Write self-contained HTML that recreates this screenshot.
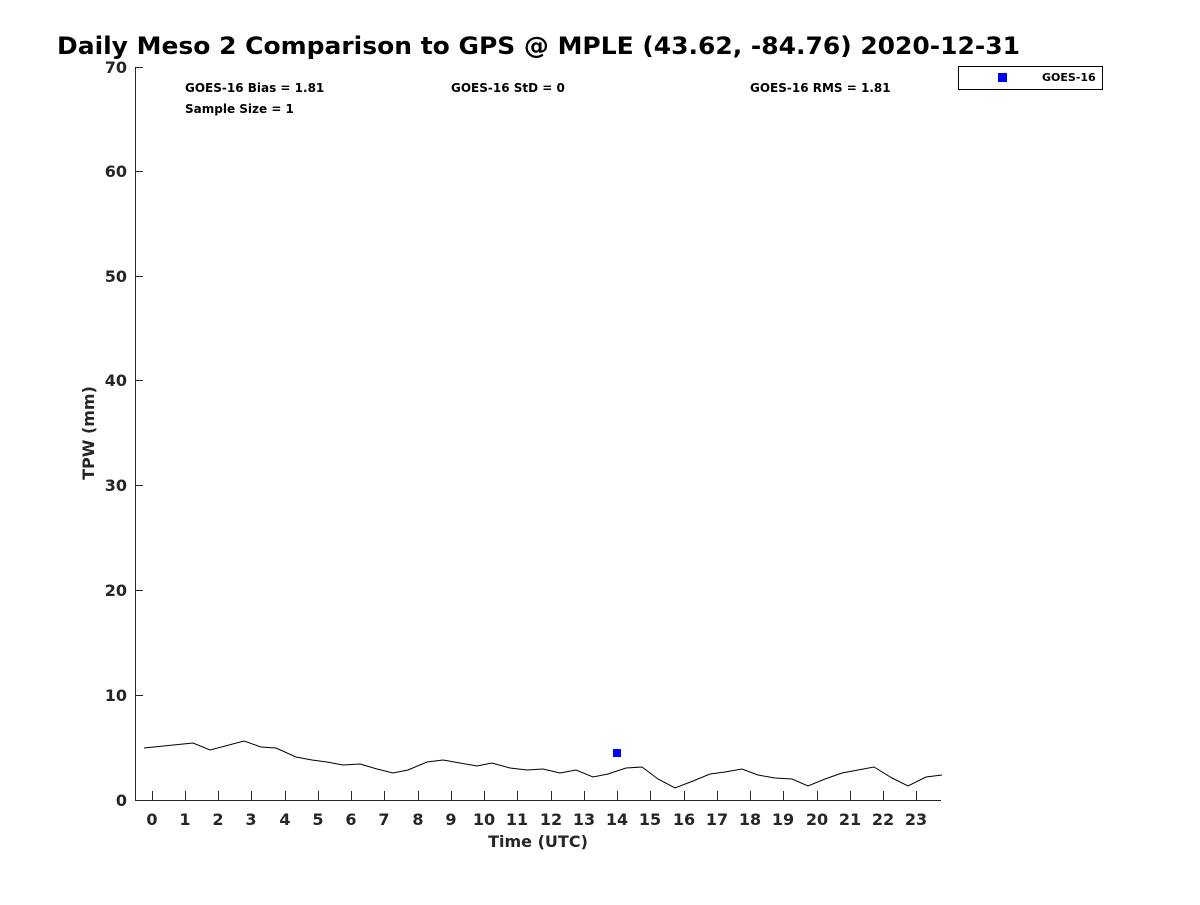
<!DOCTYPE html>
<html><head><style>
body{margin:0;background:#fff;}
svg text{font-family:"DejaVu Sans","Liberation Sans",sans-serif;font-weight:bold;}
</style></head><body>
<svg width="1200" height="900" xmlns="http://www.w3.org/2000/svg">
<rect width="1200" height="900" fill="#fff"/>
<text x="57" y="54" font-size="24" fill="#000" textLength="963" lengthAdjust="spacingAndGlyphs">Daily Meso 2 Comparison to GPS @ MPLE (43.62, -84.76) 2020-12-31</text>
<g stroke="#262626" stroke-width="1" fill="none">
<path d="M135.5,67 V800.5 H941"/>
<path d="M135,67.5 H143 M135,171.5 H143 M135,276.5 H143 M135,380.5 H143 M135,485.5 H143 M135,590.5 H143 M135,695.5 H143"/>
<path d="M152.5,800V791 M185.5,800V791 M218.5,800V791 M251.5,800V791 M285.5,800V791 M318.5,800V791 M351.5,800V791 M384.5,800V791 M418.5,800V791 M451.5,800V791 M484.5,800V791 M517.5,800V791 M551.5,800V791 M584.5,800V791 M617.5,800V791 M650.5,800V791 M684.5,800V791 M717.5,800V791 M750.5,800V791 M783.5,800V791 M817.5,800V791 M850.5,800V791 M883.5,800V791 M916.5,800V791"/>
</g>
<g font-size="16" fill="#262626" text-anchor="end">
<text x="127" y="73">70</text><text x="127" y="177">60</text><text x="127" y="282">50</text><text x="127" y="386">40</text><text x="127" y="491">30</text><text x="127" y="596">20</text><text x="127" y="701">10</text><text x="127" y="806">0</text>
</g>
<g font-size="16" fill="#262626" text-anchor="middle">
<text x="152" y="825">0</text><text x="185" y="825">1</text><text x="218" y="825">2</text><text x="251" y="825">3</text><text x="285" y="825">4</text><text x="318" y="825">5</text><text x="351" y="825">6</text><text x="384" y="825">7</text><text x="418" y="825">8</text><text x="451" y="825">9</text><text x="484" y="825">10</text><text x="517" y="825">11</text><text x="551" y="825">12</text><text x="584" y="825">13</text><text x="617" y="825">14</text><text x="650" y="825">15</text><text x="684" y="825">16</text><text x="717" y="825">17</text><text x="750" y="825">18</text><text x="783" y="825">19</text><text x="817" y="825">20</text><text x="850" y="825">21</text><text x="883" y="825">22</text><text x="916" y="825">23</text>
</g>
<text x="538" y="847" font-size="16" fill="#262626" text-anchor="middle">Time (UTC)</text>
<text transform="translate(94,433) rotate(-90)" font-size="16" fill="#262626" text-anchor="middle">TPW (mm)</text>
<g font-size="12" fill="#000">
<text x="185" y="92">GOES-16 Bias = 1.81</text>
<text x="451" y="92">GOES-16 StD = 0</text>
<text x="750" y="92">GOES-16 RMS = 1.81</text>
<text x="185" y="113">Sample Size = 1</text>
</g>
<polyline fill="none" stroke="#000" stroke-width="1" points="144,748 193,743 210,750 244,741 261,747 276,748 296,757 312,760 327,762 343,765 360,764 377,769 393,773 408,770 427,762 443,760 460,763 477,766 492,763 510,768 527,770 543,769 560,773 576,770 593,777 608,774 626,768 642,767 658,779 675,788 693,781 710,774 725,772 742,769 758,775 775,778 792,779 808,786 825,779 842,773 858,770 874,767 892,778 908,786 926,777 942,775"/>
<rect x="613" y="749" width="8" height="8" fill="#0000ff"/>
<rect x="958.5" y="66.5" width="144" height="23" fill="#fff" stroke="#000" stroke-width="1"/>
<rect x="998" y="73" width="9" height="9" fill="#0000ff"/>
<text x="1042" y="81" font-size="11" fill="#000">GOES-16</text>
</svg>
</body></html>
